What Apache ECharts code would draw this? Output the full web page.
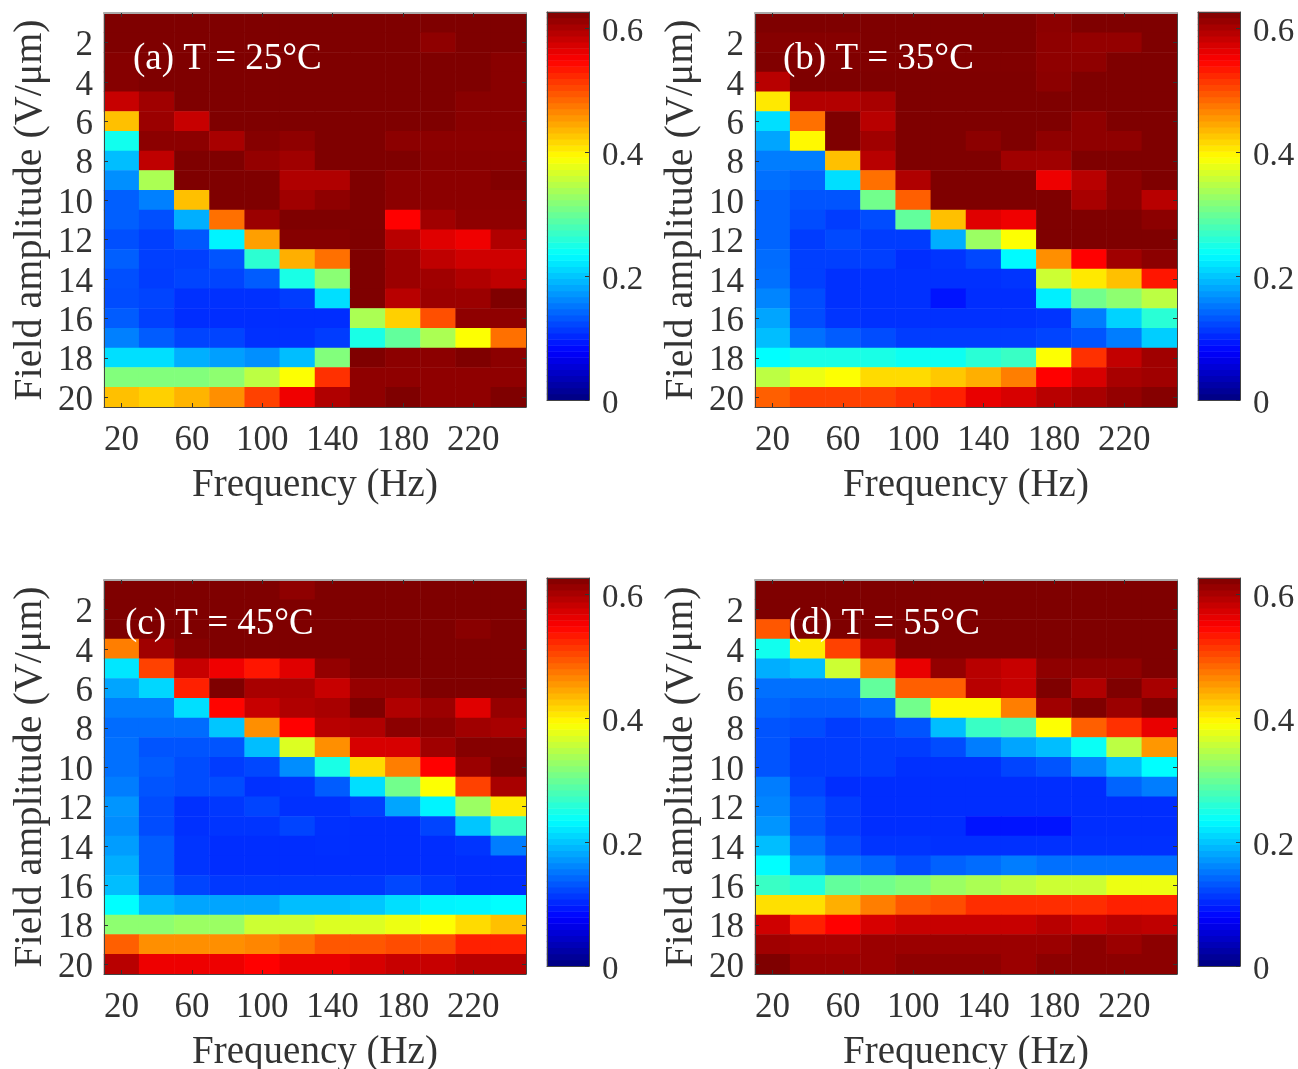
<!DOCTYPE html>
<html><head><meta charset="utf-8">
<style>html,body{margin:0;padding:0;background:#fff}#c{width:1298px;height:1069px;filter:blur(0.5px)}</style>
<script src="https://cdn.jsdelivr.net/npm/echarts@6/dist/echarts.min.js"></script></head>
<body><div id="c"></div>
<script>
const frequencies=[20,40,60,80,100,120,140,160,180,200,220,240];
const amplitudes=[1,2,3,4,5,6,7,8,9,10,11,12,13,14,15,16,17,18,19,20];
const colorbarTicks=[0,0.2,0.4,0.6];
const colorMax=0.626;
const panelTitles=['(a) T = 25°C','(b) T = 35°C','(c) T = 45°C','(d) T = 55°C'];
const jetColors=['#00007f','#0000ff','#007fff','#00ffff','#7fff7f','#ffff00','#ff7f00','#ff0000','#7f0000'];

const panelA=[
[.626,.626,.626,.626,.626,.626,.626,.626,.626,.626,.626,.626],
[.626,.626,.626,.626,.626,.626,.626,.626,.626,.616,.626,.626],
[.622,.626,.626,.626,.626,.626,.626,.626,.626,.626,.626,.62],
[.622,.626,.626,.626,.626,.626,.626,.626,.626,.626,.626,.62],
[.582,.606,.626,.626,.626,.626,.626,.626,.626,.626,.62,.62],
[.43,.609,.582,.626,.626,.626,.626,.626,.626,.626,.62,.62],
[.245,.618,.618,.601,.622,.616,.626,.626,.618,.618,.618,.618],
[.195,.587,.626,.626,.613,.606,.626,.626,.626,.62,.62,.62],
[.166,.34,.626,.626,.626,.596,.596,.626,.618,.618,.618,.624],
[.137,.157,.43,.626,.626,.606,.616,.626,.618,.618,.618,.618],
[.137,.127,.186,.479,.609,.626,.626,.626,.548,.606,.616,.616],
[.127,.117,.132,.228,.45,.622,.622,.626,.591,.567,.557,.596],
[.137,.117,.117,.13,.262,.44,.479,.626,.609,.587,.577,.577],
[.127,.115,.12,.12,.135,.25,.32,.626,.609,.606,.596,.587],
[.125,.12,.108,.108,.108,.115,.215,.626,.591,.609,.609,.626],
[.135,.117,.106,.106,.106,.106,.106,.34,.42,.499,.616,.616],
[.157,.135,.12,.12,.108,.108,.115,.25,.295,.34,.39,.479],
[.215,.215,.186,.176,.166,.195,.315,.626,.618,.618,.626,.618],
[.315,.315,.315,.322,.35,.39,.518,.616,.616,.616,.616,.616],
[.43,.42,.437,.46,.508,.557,.596,.616,.626,.616,.616,.626]];

const panelB=[
[.626,.626,.626,.626,.626,.626,.626,.626,.618,.626,.626,.626],
[.622,.622,.622,.626,.626,.626,.626,.626,.616,.613,.613,.626],
[.625,.625,.625,.625,.625,.625,.625,.625,.616,.616,.626,.626],
[.591,.626,.626,.626,.626,.626,.626,.626,.618,.626,.626,.626],
[.405,.594,.594,.601,.626,.626,.626,.626,.626,.626,.626,.626],
[.215,.479,.626,.591,.626,.626,.626,.626,.626,.616,.626,.626],
[.18,.395,.626,.606,.626,.626,.618,.626,.616,.616,.616,.626],
[.155,.155,.43,.591,.626,.626,.626,.606,.606,.626,.626,.626],
[.147,.14,.215,.479,.596,.626,.626,.626,.558,.591,.618,.626],
[.14,.13,.13,.305,.489,.626,.626,.626,.626,.601,.618,.591],
[.14,.125,.115,.125,.295,.43,.567,.557,.626,.626,.626,.618],
[.14,.115,.123,.115,.115,.185,.33,.39,.626,.626,.626,.626],
[.145,.117,.117,.117,.106,.11,.122,.232,.46,.548,.606,.618],
[.147,.117,.108,.108,.108,.108,.108,.11,.36,.405,.43,.535],
[.16,.125,.108,.108,.108,.09,.106,.106,.225,.305,.322,.35],
[.18,.125,.11,.108,.108,.108,.108,.108,.11,.155,.208,.26],
[.195,.147,.135,.125,.115,.115,.115,.115,.12,.13,.155,.205],
[.235,.25,.25,.25,.243,.243,.26,.27,.39,.518,.585,.606],
[.35,.38,.39,.413,.413,.425,.44,.47,.548,.572,.601,.606],
[.489,.508,.508,.508,.518,.528,.561,.572,.591,.601,.613,.622]];

const panelC=[
[.626,.626,.626,.626,.626,.616,.626,.626,.626,.626,.626,.626],
[.626,.626,.626,.626,.626,.626,.626,.626,.626,.626,.626,.626],
[.626,.626,.626,.626,.626,.626,.626,.626,.626,.626,.62,.626],
[.47,.606,.622,.626,.626,.626,.626,.626,.626,.626,.626,.626],
[.22,.508,.582,.557,.535,.567,.613,.626,.626,.626,.626,.626],
[.18,.21,.528,.626,.601,.601,.582,.612,.612,.626,.626,.626],
[.155,.155,.215,.545,.582,.596,.601,.626,.596,.609,.567,.612],
[.145,.145,.145,.2,.46,.548,.591,.596,.618,.618,.606,.601],
[.147,.13,.13,.13,.195,.37,.46,.572,.572,.606,.622,.622],
[.147,.135,.125,.115,.122,.165,.25,.413,.47,.548,.609,.626],
[.155,.13,.125,.125,.108,.11,.135,.215,.305,.39,.508,.601],
[.17,.125,.108,.112,.12,.108,.108,.117,.18,.228,.33,.405],
[.165,.125,.108,.11,.11,.12,.108,.106,.106,.12,.2,.27],
[.175,.135,.11,.106,.106,.106,.107,.106,.106,.106,.11,.155],
[.185,.135,.11,.106,.106,.106,.106,.106,.106,.106,.106,.106],
[.195,.14,.12,.113,.113,.113,.113,.113,.122,.113,.106,.106],
[.235,.19,.18,.18,.18,.195,.195,.2,.215,.228,.23,.235],
[.322,.322,.33,.33,.36,.36,.37,.37,.38,.39,.413,.43],
[.489,.46,.46,.46,.465,.475,.494,.494,.501,.501,.528,.528],
[.591,.558,.558,.558,.548,.561,.561,.572,.582,.582,.591,.591]];

const panelD=[
[.626,.626,.626,.626,.626,.626,.626,.626,.626,.626,.626,.626],
[.626,.626,.626,.626,.626,.626,.626,.626,.626,.626,.626,.626],
[.494,.626,.626,.626,.626,.626,.626,.626,.626,.626,.626,.626],
[.245,.405,.508,.591,.626,.626,.626,.626,.626,.626,.626,.626],
[.185,.195,.36,.475,.561,.613,.591,.582,.616,.616,.616,.626],
[.147,.147,.147,.295,.489,.489,.591,.582,.626,.596,.626,.601],
[.14,.135,.135,.145,.305,.395,.395,.47,.606,.626,.609,.626],
[.13,.125,.115,.12,.13,.195,.27,.28,.39,.489,.518,.561],
[.13,.115,.115,.115,.115,.125,.155,.18,.195,.24,.35,.455],
[.13,.115,.115,.115,.108,.108,.108,.12,.13,.16,.195,.235],
[.155,.12,.106,.106,.106,.106,.106,.106,.106,.106,.14,.155],
[.16,.13,.115,.106,.106,.106,.106,.106,.106,.106,.106,.106],
[.17,.13,.115,.106,.106,.106,.09,.09,.09,.106,.106,.106],
[.195,.147,.125,.11,.11,.108,.108,.108,.108,.108,.108,.108],
[.235,.175,.15,.14,.125,.138,.145,.155,.147,.147,.147,.147],
[.27,.255,.295,.305,.315,.33,.34,.35,.36,.36,.38,.38],
[.41,.41,.44,.47,.494,.501,.52,.52,.52,.52,.528,.528],
[.577,.528,.548,.572,.582,.582,.582,.582,.591,.582,.591,.587],
[.606,.601,.601,.609,.609,.609,.609,.609,.609,.618,.609,.618],
[.626,.609,.609,.609,.616,.616,.616,.609,.618,.618,.618,.618]];

const panels=[panelA,panelB,panelC,panelD];
const colorbarLevels=Array.from({length:64},(_,i)=>i);

const FONT='"Liberation Serif"';
const INK='#333';
const mapLeft=[104,755], mapWidth=422, mapTop=[13,580], mapHeight=394;
const barOffset=443, barWidth=42, barTop=[12,578], barHeight=388;
const titleLeft=[133,783,125,789], titleTop=[41,41,606,606];

const grid=[],xAxis=[],yAxis=[],series=[],title=[];
const edge={show:true,lineStyle:{color:'#444',width:1}};
panels.forEach((m,p)=>{
  const L=mapLeft[p%2],T=mapTop[p>>1];
  const g=grid.length;
  grid.push({left:L,top:T,width:mapWidth,height:mapHeight,outerBoundsMode:'none',containLabel:false});
  const tick=(fn)=>({show:true,inside:true,length:4,alignWithLabel:true,interval:fn,lineStyle:{color:INK,width:1}});
  const xi=xAxis.length, yi=yAxis.length;
  xAxis.push({gridIndex:g,type:'category',data:frequencies,position:'bottom',z:10,
    axisLine:edge,axisTick:tick(1),splitLine:{show:false},
    axisLabel:{interval:1,fontFamily:FONT,fontSize:35,color:INK,margin:16,hideOverlap:false},
    name:'Frequency (Hz)',nameLocation:'middle',nameGap:59,nameTextStyle:{fontFamily:FONT,fontSize:39,color:INK}});
  xAxis.push({gridIndex:g,type:'category',data:frequencies,position:'top',z:10,
    axisLine:{show:true,lineStyle:{color:'#aaa',width:2}},axisTick:tick(1),axisLabel:{show:false},splitLine:{show:false}});
  const oddIdx=(i)=>i%2===1;
  yAxis.push({gridIndex:g,type:'category',data:amplitudes,inverse:true,position:'left',z:10,
    axisLine:edge,axisTick:tick(oddIdx),splitLine:{show:false},
    axisLabel:{interval:oddIdx,fontFamily:FONT,fontSize:35,color:INK,margin:11,verticalAlign:'top',lineHeight:7,hideOverlap:false},
    name:'Field amplitude (V/μm)',nameLocation:'middle',nameGap:54,nameTextStyle:{fontFamily:FONT,fontSize:40,color:INK}});
  yAxis.push({gridIndex:g,type:'category',data:amplitudes,inverse:true,position:'right',z:10,
    axisLine:edge,axisTick:tick(oddIdx),axisLabel:{show:false},splitLine:{show:false}});
  const cells=[];
  m.forEach((row,r)=>row.forEach((v,c)=>cells.push([c,r,v])));
  series.push({type:'heatmap',xAxisIndex:xi,yAxisIndex:yi,data:cells,progressive:0,itemStyle:{borderWidth:0}});
  title.push({text:panelTitles[p],left:titleLeft[p],top:titleTop[p],padding:0,textStyle:{fontFamily:FONT,fontSize:37,fontWeight:'normal',color:'#fff'}});

  // colour bar
  const b=grid.length;
  grid.push({left:L+barOffset,top:barTop[p>>1],width:barWidth,height:barHeight,outerBoundsMode:'none',containLabel:false});
  const bxi=xAxis.length, byi=yAxis.length;
  xAxis.push({gridIndex:b,type:'category',data:[0],axisLine:edge,axisTick:{show:false},axisLabel:{show:false},position:'bottom',z:10});
  xAxis.push({gridIndex:b,type:'category',data:[0],axisLine:edge,axisTick:{show:false},axisLabel:{show:false},position:'top',z:10});
  yAxis.push({gridIndex:b,type:'category',data:colorbarLevels,position:'left',z:10,axisLine:edge,axisTick:{show:false},axisLabel:{show:false},splitLine:{show:false}});
  yAxis.push({gridIndex:b,type:'value',min:0,max:colorMax,position:'right',z:10,splitLine:{show:false},axisLine:edge,
    axisTick:{show:true,inside:true,length:4,customValues:colorbarTicks,lineStyle:{color:INK}},
    axisLabel:{customValues:colorbarTicks,fontFamily:FONT,fontSize:33,color:INK,margin:13,verticalAlign:'top',lineHeight:8}});
  series.push({type:'heatmap',xAxisIndex:bxi,yAxisIndex:byi,progressive:0,
    data:colorbarLevels.map(i=>[0,i,(i+.5)/64*colorMax])});
});

echarts.init(document.getElementById('c'),null,{renderer:'canvas'}).setOption({
  animation:false,backgroundColor:'#fff',title,grid,xAxis,yAxis,series,
  visualMap:{show:false,type:'continuous',min:0,max:colorMax,seriesIndex:series.map((_,i)=>i),inRange:{color:jetColors}}
});
</script></body></html>
